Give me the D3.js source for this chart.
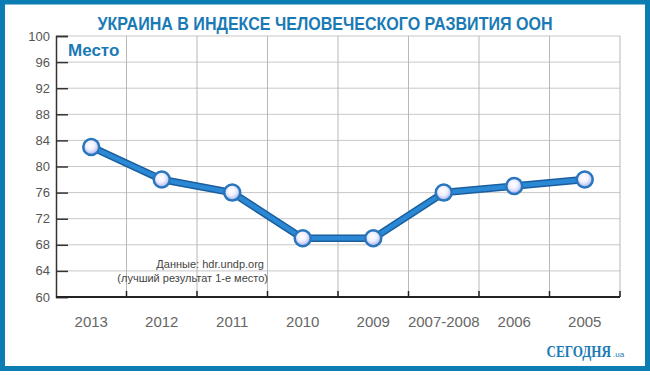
<!DOCTYPE html>
<html>
<head>
<meta charset="utf-8">
<script src="https://cdn.jsdelivr.net/npm/d3@7"></script>
<style>
  body { margin: 0; background: #fff; }
  svg { display: block; }
</style>
</head>
<body>
<div id="wrapper"></div>
<script>
// data
const years = ["2013", "2012", "2011", "2010", "2009", "2007-2008", "2006", "2005"];
const ranks = [83, 78, 76, 69, 69, 76, 77, 78];
const yTicks = [60, 64, 68, 72, 76, 80, 84, 88, 92, 96, 100];

const width = 650;
const height = 375;
const margin = { top: 36, right: 30, bottom: 78, left: 56 };
const innerW = 620 - margin.left;
const innerH = 297 - margin.top;

const svg = d3.select("#wrapper").append("svg")
  .attr("width", width)
  .attr("height", height);

// frame
svg.append("rect")
  .attr("x", 2.5).attr("y", 2).attr("width", 645).attr("height", 366.5)
  .attr("fill", "#fff")
  .attr("stroke", "#0b7db3")
  .attr("stroke-width", 5);

const defs = svg.append("defs");
const grad = defs.append("radialGradient")
  .attr("id", "dotGrad")
  .attr("cx", "45%").attr("cy", "40%").attr("r", "62%");
grad.append("stop").attr("offset", "0%").attr("stop-color", "#ffffff");
grad.append("stop").attr("offset", "45%").attr("stop-color", "#f0f0ff");
grad.append("stop").attr("offset", "100%").attr("stop-color", "#9aa8ea");

// scales
const x = d3.scaleBand().domain(years).range([0, innerW]);
const y = d3.scaleLinear().domain([60, 100]).range([innerH, 0]);

const g = svg.append("g").attr("transform", `translate(${margin.left},${margin.top})`);

// horizontal grid
g.append("g")
  .selectAll("line")
  .data(yTicks)
  .join("line")
  .attr("x1", 0).attr("x2", innerW)
  .attr("y1", d => y(d)).attr("y2", d => y(d))
  .attr("stroke", "#c8c8c8").attr("stroke-width", 1);

// vertical grid at band boundaries
g.append("g")
  .selectAll("line")
  .data(years)
  .join("line")
  .attr("x1", d => x(d) + x.bandwidth()).attr("x2", d => x(d) + x.bandwidth())
  .attr("y1", 0).attr("y2", innerH)
  .attr("stroke", "#b8b8b8").attr("stroke-width", 1);

// y axis with ticks pointing inward
const yAxis = g.append("g")
  .call(d3.axisRight(y).tickValues(yTicks).tickSize(12).tickFormat(""));
yAxis.select(".domain").attr("stroke", "#333").attr("stroke-width", 1.5);
yAxis.selectAll(".tick line").attr("stroke", "#333").attr("stroke-width", 1.5);

// y labels
g.append("g")
  .selectAll("text")
  .data(yTicks)
  .join("text")
  .attr("x", -6)
  .attr("y", d => y(d))
  .attr("dy", "0.35em")
  .attr("text-anchor", "end")
  .attr("font-family", "Liberation Sans, Arial, sans-serif")
  .attr("font-size", 13)
  .attr("fill", "#555")
  .text(d => d);

// x axis, ticks pointing up at band boundaries
const xAxisG = g.append("g").attr("transform", `translate(0,${innerH})`);
xAxisG.append("line")
  .attr("x1", 0).attr("x2", innerW)
  .attr("stroke", "#222").attr("stroke-width", 2);
xAxisG.selectAll(".xt")
  .data(years)
  .join("line")
  .attr("class", "xt")
  .attr("x1", d => x(d) + x.bandwidth()).attr("x2", d => x(d) + x.bandwidth())
  .attr("y1", 0).attr("y2", -6)
  .attr("stroke", "#222").attr("stroke-width", 1.5);
xAxisG.selectAll("text")
  .data(years)
  .join("text")
  .attr("x", d => x(d) + x.bandwidth() / 2)
  .attr("y", 30)
  .attr("text-anchor", "middle")
  .attr("font-family", "Liberation Sans, Arial, sans-serif")
  .attr("font-size", 15)
  .attr("fill", "#666")
  .text(d => d);

// line
const pts = years.map((d, i) => [x(d) + x.bandwidth() / 2, y(ranks[i])]);
const line = d3.line();
g.append("path")
  .attr("d", line(pts))
  .attr("fill", "none")
  .attr("stroke", "#1a5f9e")
  .attr("stroke-width", 7.5)
  .attr("stroke-linejoin", "round");
g.append("path")
  .attr("d", line(pts))
  .attr("fill", "none")
  .attr("stroke", "#2a88d4")
  .attr("stroke-width", 4.5)
  .attr("stroke-linejoin", "round");

g.append("g")
  .selectAll("circle")
  .data(pts)
  .join("circle")
  .attr("cx", d => d[0]).attr("cy", d => d[1])
  .attr("r", 8)
  .attr("fill", "url(#dotGrad)")
  .attr("stroke", "#2a76bd")
  .attr("stroke-width", 2.5);

// title
svg.append("text")
  .attr("x", 325).attr("y", 30)
  .attr("text-anchor", "middle")
  .attr("font-family", "Liberation Sans Narrow, Arial Narrow, sans-serif")
  .attr("font-weight", "bold")
  .attr("font-size", 19)
  .attr("fill", "#1a7ab5")
  .attr("textLength", 455)
  .attr("lengthAdjust", "spacingAndGlyphs")
  .text("УКРАИНА В ИНДЕКСЕ ЧЕЛОВЕЧЕСКОГО РАЗВИТИЯ ООН");

svg.append("text")
  .attr("x", 68).attr("y", 56)
  .attr("font-family", "Liberation Sans Narrow, Arial Narrow, sans-serif")
  .attr("font-weight", "bold")
  .attr("font-size", 17)
  .attr("fill", "#1a7ab5")
  .text("Место");

// source note
const note = svg.append("g")
  .attr("font-family", "Liberation Sans, Arial, sans-serif")
  .attr("font-size", 11)
  .attr("fill", "#444")
  .attr("text-anchor", "end");
note.append("text").attr("x", 264).attr("y", 268).text("Данные: hdr.undp.org");
note.append("text").attr("x", 268).attr("y", 282).text("(лучший результат 1-е место)");

// logo
svg.append("text")
  .attr("transform", "translate(611,357) scale(0.82,1)")
  .attr("text-anchor", "end")
  .attr("fill", "#1a7ab5")
  .attr("font-family", "Liberation Serif, DejaVu Serif, serif")
  .attr("font-weight", "bold")
  .attr("font-size", 16)
  .text("СЕГОДНЯ");
svg.append("text")
  .attr("x", 613).attr("y", 357)
  .attr("fill", "#1a7ab5")
  .attr("font-family", "Liberation Sans, Arial, sans-serif")
  .attr("font-size", 8)
  .text(".ua");
</script>
</body>
</html>
